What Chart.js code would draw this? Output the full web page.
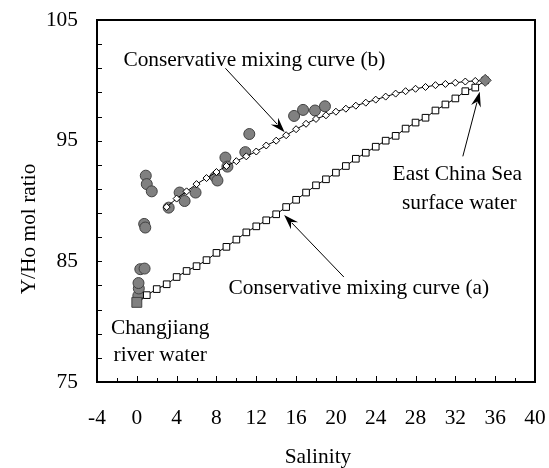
<!DOCTYPE html>
<html><head><meta charset="utf-8">
<script src="https://cdn.jsdelivr.net/npm/chart.js@4/dist/chart.umd.min.js"></script>
<style>html,body{margin:0;padding:0;background:#fff}#wrap{width:549px;height:468px}</style>
</head><body><div id="wrap"><canvas id="c" width="549" height="468"></canvas></div>
<script>
// ---- data ----
const curveASalinity = [0,1,2,3,4,5,6,7,8,9,10,11,12,13,14,15,16,17,18,19,20,21,22,23,24,25,26,27,28,29,30,31,32,33,34,35];
const curveAValues   = [81.6,82.2,82.7,83.1,83.7,84.2,84.6,85.1,85.7,86.2,86.8,87.4,87.9,88.4,88.9,89.5,90.1,90.7,91.3,91.8,92.35,92.9,93.5,94.0,94.5,95.0,95.4,96.0,96.5,96.9,97.5,98.0,98.5,99.1,99.4,100];
const curveBSalinity = [3,4,5,6,7,8,9,10,11,12,13,14,15,16,17,18,19,20,21,22,23,24,25,26,27,28,29,30,31,32,33,34,35];
const curveBValues   = [89.5,90.2,90.8,91.4,91.9,92.4,92.9,93.3,93.7,94.1,94.6,95.0,95.45,95.95,96.4,96.8,97.1,97.4,97.65,97.9,98.15,98.4,98.65,98.9,99.1,99.3,99.45,99.6,99.7,99.8,99.9,99.95,100];
const sampleSalinity = [0.15,0.2,0.17,0.35,0.78,0.74,0.85,0.9,1.0,1.5,3.2,4.3,4.8,5.9,7.9,8.1,8.9,9.1,10.9,11.3,15.8,16.7,17.9,18.9];
const sampleValues   = [82.15,82.75,83.2,84.35,84.4,88.1,87.8,92.1,91.4,90.8,89.45,90.7,90.0,90.7,92.0,91.7,93.6,92.85,94.05,95.55,97.05,97.55,97.5,97.85];
const riverSalinity = [0];
const riverValue    = [81.6];
const seaSalinity   = [35];
const seaValue      = [100];
const xTickLabels = [-4,0,4,8,12,16,20,24,28,32,36,40];
const yTickLabels = [75,85,95,105];

const pts = (xs, ys) => xs.map((x, i) => ({x, y: ys[i]}));
const FONT = "'Liberation Serif','Times New Roman',serif";

// annotation layout (data coordinates)
const notes = [
  {text: 'Conservative mixing curve (b)', x: -1.35, y: 101.2, align: 'left'},
  {text: 'Conservative mixing curve (a)', x: 9.2, y: 82.3, align: 'left'},
  {text: 'East China Sea', x: 32.2, y: 91.7, align: 'center'},
  {text: 'surface water', x: 32.4, y: 89.35, align: 'center'},
  {text: 'Changjiang', x: 2.35, y: 79.0, align: 'center'},
  {text: 'river water', x: 2.35, y: 76.7, align: 'center'}
];
const arrows = [
  {from: [8.9, 101.0], to: [14.85, 95.7]},
  {from: [20.8, 83.7], to: [14.8, 88.85]},
  {from: [32.75, 93.7], to: [34.45, 99.05]}
];

const decor = {
  id: 'decor',
  afterDraw(chart) {
    const {ctx, chartArea: a, scales: {x, y}} = chart;
    ctx.save();
    ctx.strokeStyle = '#000';
    ctx.fillStyle = '#000';
    ctx.lineWidth = 1;
    ctx.font = '21.4px ' + FONT;
    // inward tick marks
    x.ticks.forEach(t => {
      const px = Math.round(x.getPixelForValue(t.value)) + 0.5;
      const len = (t.value % 4 === 0) ? 6 : 4;
      ctx.beginPath(); ctx.moveTo(px, a.bottom); ctx.lineTo(px, a.bottom - len); ctx.stroke();
    });
    y.ticks.forEach(t => {
      const py = Math.round(y.getPixelForValue(t.value)) + 0.5;
      ctx.beginPath(); ctx.moveTo(a.left, py); ctx.lineTo(a.left + 5, py); ctx.stroke();
    });
    // tick labels
    ctx.textAlign = 'center'; ctx.textBaseline = 'middle';
    xTickLabels.forEach(v => ctx.fillText(String(v), x.getPixelForValue(v), a.bottom + 36));
    ctx.textAlign = 'right';
    yTickLabels.forEach(v => ctx.fillText(String(v), a.left - 19, y.getPixelForValue(v)));
    // frame
    ctx.lineWidth = 2;
    ctx.strokeRect(a.left, a.top, a.right - a.left, a.bottom - a.top);
    // arrows
    ctx.lineWidth = 1;
    arrows.forEach(ar => {
      const x0 = x.getPixelForValue(ar.from[0]), y0 = y.getPixelForValue(ar.from[1]);
      const x1 = x.getPixelForValue(ar.to[0]), y1 = y.getPixelForValue(ar.to[1]);
      const ang = Math.atan2(y1 - y0, x1 - x0);
      const L = 15, W = 5;
      const bx = x1 - L * Math.cos(ang), by = y1 - L * Math.sin(ang);
      ctx.beginPath(); ctx.moveTo(x0, y0); ctx.lineTo(bx + 4*Math.cos(ang), by + 4*Math.sin(ang)); ctx.stroke();
      ctx.beginPath();
      ctx.moveTo(x1, y1);
      ctx.lineTo(bx + W * Math.sin(ang), by - W * Math.cos(ang));
      ctx.lineTo(bx + 5 * Math.cos(ang), by + 5 * Math.sin(ang));
      ctx.lineTo(bx - W * Math.sin(ang), by + W * Math.cos(ang));
      ctx.closePath(); ctx.fill();
    });
    // notes
    ctx.textBaseline = 'alphabetic';
    notes.forEach(n => {
      ctx.textAlign = n.align;
      ctx.fillText(n.text, x.getPixelForValue(n.x), y.getPixelForValue(n.y));
    });
    // axis titles
    ctx.textAlign = 'center';
    ctx.textBaseline = 'middle';
    ctx.fillText('Salinity', (a.left + a.right) / 2 + 2, 457);
    ctx.save();
    ctx.translate(29, 229);
    ctx.rotate(-Math.PI / 2);
    ctx.fillText('Y/Ho mol ratio', 0, 0);
    ctx.restore();
    ctx.restore();
  }
};

new Chart(document.getElementById('c'), {
  type: 'scatter',
  data: {
    datasets: [
      {label: 'samples', data: pts(sampleSalinity, sampleValues), order: 4,
       pointStyle: 'circle', pointRadius: 5.5, backgroundColor: '#808080', borderColor: '#404040', borderWidth: 1},
      {label: 'curve a', data: pts(curveASalinity, curveAValues), order: 3, showLine: true,
       borderColor: '#000', borderWidth: 1, pointStyle: 'rect', pointRadius: 4.7,
       pointBackgroundColor: '#fff', pointBorderColor: '#000', pointBorderWidth: 1},
      {label: 'curve b', data: pts(curveBSalinity, curveBValues), order: 2, showLine: true,
       borderColor: '#000', borderWidth: 1, pointStyle: 'rectRot', pointRadius: 3.5,
       pointBackgroundColor: '#fff', pointBorderColor: '#000', pointBorderWidth: 1},
      {label: 'river', data: pts(riverSalinity, riverValue), order: 1,
       pointStyle: 'rect', pointRadius: 7, backgroundColor: '#808080', borderColor: '#404040', borderWidth: 1},
      {label: 'sea', data: pts(seaSalinity, seaValue), order: 1,
       pointStyle: 'rectRot', pointRadius: 6, backgroundColor: '#808080', borderColor: '#404040', borderWidth: 1}
    ]
  },
  options: {
    responsive: false, animation: false, devicePixelRatio: 1,
    layout: {padding: {top: 20, right: 14, left: 0, bottom: 0}},
    plugins: {legend: {display: false}, tooltip: {enabled: false}},
    scales: {
      x: {
        type: 'linear', min: -4, max: 40,
        grid: {display: false}, border: {display: false},
        ticks: {stepSize: 2, autoSkip: false, display: false},
        afterFit: s => { s.height = 86; }
      },
      y: {
        type: 'linear', min: 75, max: 105,
        grid: {display: false}, border: {display: false},
        ticks: {stepSize: 2, autoSkip: false, display: false},
        afterFit: s => { s.width = 97; }
      }
    }
  },
  plugins: [decor]
});
</script>
</body></html>
